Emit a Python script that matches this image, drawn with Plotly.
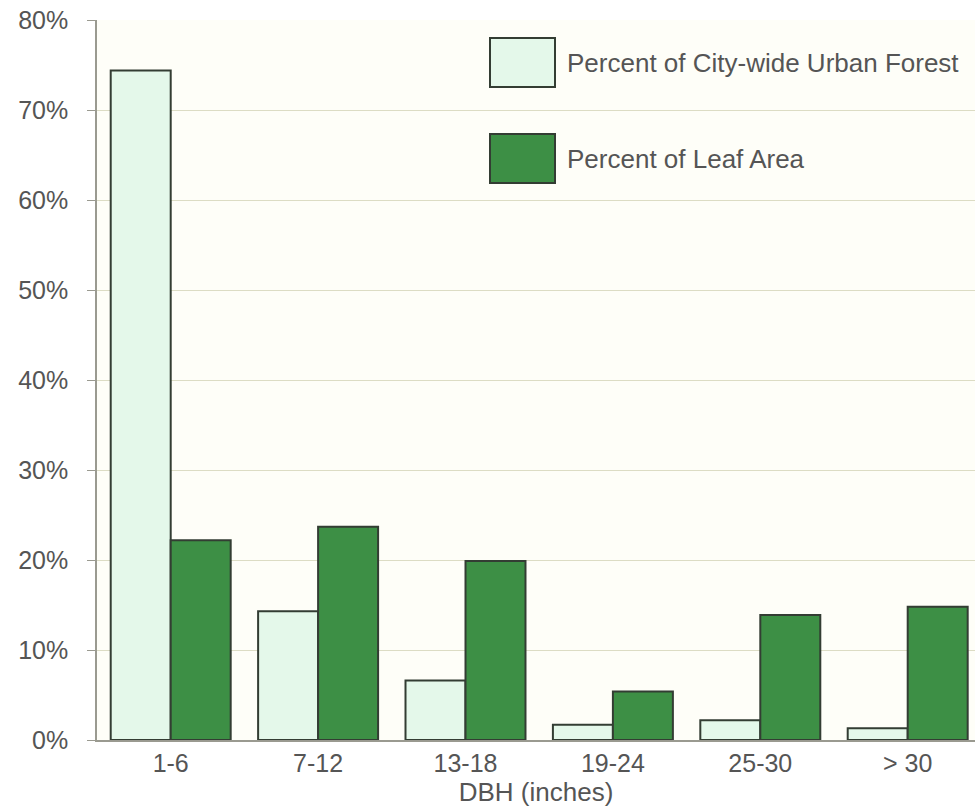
import plotly.graph_objects as go

categories = ["1-6", "7-12", "13-18", "19-24", "25-30", "> 30"]
pct_forest = [74.4, 14.3, 6.6, 1.7, 2.2, 1.3]
pct_leaf = [22.2, 23.7, 19.9, 5.4, 13.9, 14.8]
y_ticks = [0, 10, 20, 30, 40, 50, 60, 70, 80]
y_tick_labels = [f"{v}%" for v in y_ticks]
series_names = ["Percent of City-wide Urban Forest", "Percent of Leaf Area"]

W, H = 975, 812
L, R, T, B = 97, 975, 20, 740
LIGHT = "#e4f8ea"
DARK = "#3d8f45"
EDGE = "#333d33"
TXT = "#555555"
FONT = "Liberation Sans, Arial, sans-serif"

fig = go.Figure()
fig.add_trace(go.Bar(x=categories, y=pct_forest, name=series_names[0],
                     marker=dict(color=LIGHT, line=dict(color=EDGE, width=2))))
fig.add_trace(go.Bar(x=categories, y=pct_leaf, name=series_names[1],
                     marker=dict(color=DARK, line=dict(color=EDGE, width=2))))

cat_w = 147.4
x_max = -0.5 + (R - L) / cat_w

def px(x):
    return (x - L) / (R - L)

def py(y):
    return (B - y) / (B - T)

shapes = []
annotations = []
legend_boxes = [(490, 555, 38, 87, LIGHT), (490, 555, 134, 183, DARK)]
for (x0, x1, y0, y1, c), name in zip(legend_boxes, series_names):
    shapes.append(dict(type="rect", xref="paper", yref="paper",
                       x0=px(x0), x1=px(x1), y0=py(y1), y1=py(y0),
                       fillcolor=c, line=dict(color=EDGE, width=2), layer="above"))
    annotations.append(dict(xref="paper", yref="paper", x=px(565), y=py((y0 + y1) / 2),
                            text=name, showarrow=False, xanchor="left", yanchor="middle",
                            font=dict(size=26, color=TXT, family=FONT)))

fig.update_layout(
    width=W, height=H,
    margin=dict(l=L, r=W - R, t=T, b=H - B, pad=0),
    paper_bgcolor="white",
    plot_bgcolor="#fefef8",
    barmode="group", bargap=0.186, bargroupgap=0,
    showlegend=False,
    font=dict(family=FONT, color=TXT),
    shapes=shapes,
    annotations=annotations,
    xaxis=dict(range=[-0.5, x_max], showgrid=False, showline=True, linecolor="#9a9a90",
               linewidth=1.5, ticks="", tickfont=dict(size=25, color=TXT),
               title=dict(text="DBH (inches)", font=dict(size=26, color=TXT), standoff=2),
               fixedrange=True),
    yaxis=dict(range=[0, 80], tickvals=y_ticks, ticktext=y_tick_labels,
               showgrid=True, gridcolor="#dcdcc4", gridwidth=1.2,
               showline=True, linecolor="#9a9a90", linewidth=1.5,
               ticks="outside", ticklen=8, tickcolor="#9a9a90",
               tickfont=dict(size=25, color=TXT), ticklabelstandoff=14,
               zeroline=False, fixedrange=True),
)

fig.write_html("out.html")
